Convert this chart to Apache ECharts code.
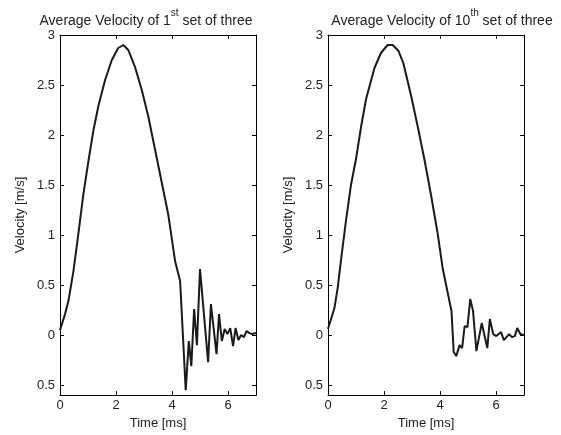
<!DOCTYPE html>
<html>
<head>
<meta charset="utf-8">
<script src="https://cdn.jsdelivr.net/npm/echarts@6/dist/echarts.min.js"></script>
<style>
  html, body { margin: 0; padding: 0; background: #fff; }
  #chart { width: 561px; height: 435px; }
</style>
</head>
<body>
<div id="chart"></div>
<script>
// 两组数据：第1组和第10组的平均速度
const time1 = [0, 0.18, 0.3, 0.48, 0.65, 0.83, 1.01, 1.19, 1.37, 1.61, 1.85, 2.08, 2.26, 2.44, 2.68, 2.92, 3.15, 3.39, 3.63, 3.87, 4.11, 4.29, 4.49, 4.6, 4.69, 4.79, 4.89, 5.0, 5.29, 5.39, 5.59, 5.68, 5.78, 5.88, 5.98, 6.08, 6.18, 6.27, 6.37, 6.47, 6.57, 6.66, 6.77, 6.86, 7.0];
const vel1 = [0.05, 0.21, 0.34, 0.64, 1.0, 1.4, 1.73, 2.04, 2.29, 2.55, 2.75, 2.87, 2.9, 2.85, 2.68, 2.45, 2.19, 1.86, 1.53, 1.2, 0.74, 0.54, -0.55, -0.06, -0.31, 0.26, -0.1, 0.66, -0.27, 0.31, -0.19, 0.21, -0.06, 0.06, 0.01, 0.07, -0.11, 0.07, -0.05, 0.0, -0.02, 0.04, 0.02, 0.01, 0.02];

const time2 = [0, 0.23, 0.35, 0.46, 0.64, 0.82, 1.0, 1.18, 1.36, 1.66, 1.89, 2.13, 2.31, 2.52, 2.69, 2.97, 3.2, 3.44, 3.68, 3.92, 4.1, 4.41, 4.49, 4.58, 4.7, 4.79, 4.88, 4.98, 5.08, 5.18, 5.3, 5.49, 5.69, 5.78, 5.9, 6.01, 6.18, 6.28, 6.47, 6.57, 6.67, 6.76, 6.87, 7.0];
const vel2 = [0.06, 0.27, 0.48, 0.74, 1.14, 1.5, 1.76, 2.08, 2.36, 2.67, 2.82, 2.9, 2.9, 2.84, 2.72, 2.39, 2.09, 1.76, 1.4, 1.01, 0.66, 0.24, -0.17, -0.21, -0.1, -0.13, 0.09, 0.08, 0.36, 0.24, -0.16, 0.12, -0.13, 0.16, 0.01, -0.01, 0.03, -0.05, 0.01, -0.02, -0.01, 0.07, 0.01, 0.0];

// 刻度（原图负号丢失，-0.5 显示为 0.5）
const yTicks = [-0.5, 0, 0.5, 1, 1.5, 2, 2.5, 3];
const yTickLabels = ['0.5', '0', '0.5', '1', '1.5', '2', '2.5', '3'];
const xTicks = [0, 2, 4, 6];

const titles = [
  { pre: 'Average Velocity of 1', sup: 'st', post: ' set of three' },
  { pre: 'Average Velocity of 10', sup: 'th', post: ' set of three' }
];

const FONT = 'Liberation Sans, Arial, sans-serif';
const ink = '#222';

const chart = echarts.init(document.getElementById('chart'), null, { renderer: 'canvas' });

const grids = [
  { left: 60, right: 305, top: 35, bottom: 36 },
  { left: 328, right: 37, top: 35, bottom: 36 }
];

function xAxes(i) {
  const base = {
    type: 'value', gridIndex: i, min: 0, max: 7,
    axisLine: { show: true, onZero: false, lineStyle: { color: '#000', width: 1 } },
    axisTick: { show: true, inside: true, length: 4, customValues: xTicks, lineStyle: { color: '#000', width: 1 } },
    splitLine: { show: false }
  };
  return [
    Object.assign({}, base, {
      position: 'bottom',
      name: 'Time [ms]', nameLocation: 'middle', nameGap: 18,
      nameTextStyle: { fontFamily: FONT, fontSize: 13, color: ink },
      axisLabel: { margin: 4, fontFamily: FONT, fontSize: 13, color: ink, customValues: xTicks }
    }),
    Object.assign({}, base, { position: 'top', axisLabel: { show: false } })
  ];
}

function yAxes(i) {
  const base = {
    type: 'value', gridIndex: i, min: -0.6, max: 3,
    axisLine: { show: true, onZero: false, lineStyle: { color: '#000', width: 1 } },
    axisTick: { show: true, inside: true, length: 4, customValues: yTicks, lineStyle: { color: '#000', width: 1 } },
    splitLine: { show: false }
  };
  return [
    Object.assign({}, base, {
      position: 'left',
      name: 'Velocity [m/s]', nameLocation: 'middle', nameGap: 33,
      nameTextStyle: { fontFamily: FONT, fontSize: 13, color: ink },
      axisLabel: {
        margin: 5, fontFamily: FONT, fontSize: 13, color: ink,
        customValues: yTicks,
        formatter: v => yTickLabels[yTicks.indexOf(Math.round(v * 10) / 10)]
      }
    }),
    Object.assign({}, base, { position: 'right', axisLabel: { show: false } })
  ];
}

const series = [
  [time1, vel1],
  [time2, vel2]
].map(([t, v], i) => ({
  type: 'line',
  xAxisIndex: i * 2,
  yAxisIndex: i * 2,
  data: t.map((x, k) => [x, v[k]]),
  showSymbol: false,
  lineStyle: { color: '#1a1a1a', width: 2 },
  animation: false
}));

chart.setOption({
  backgroundColor: '#fff',
  animation: false,
  title: titles.map((t, i) => ({
    text: '{a|' + t.pre + '}{s|' + t.sup + '}{a|' + t.post + '}',
    left: i === 0 ? 141 : 437,
    textAlign: 'center',
    top: 3,
    textStyle: {
      rich: {
        a: { fontFamily: FONT, fontSize: 14, fontWeight: 'normal', color: ink, lineHeight: 20, verticalAlign: 'bottom' },
        s: { fontFamily: FONT, fontSize: 10, fontWeight: 'normal', color: ink, lineHeight: 20, verticalAlign: 'top' }
      }
    }
  })),
  grid: grids,
  xAxis: [].concat(xAxes(0), xAxes(1)),
  yAxis: [].concat(yAxes(0), yAxes(1)),
  series: series
});
</script>
</body>
</html>
